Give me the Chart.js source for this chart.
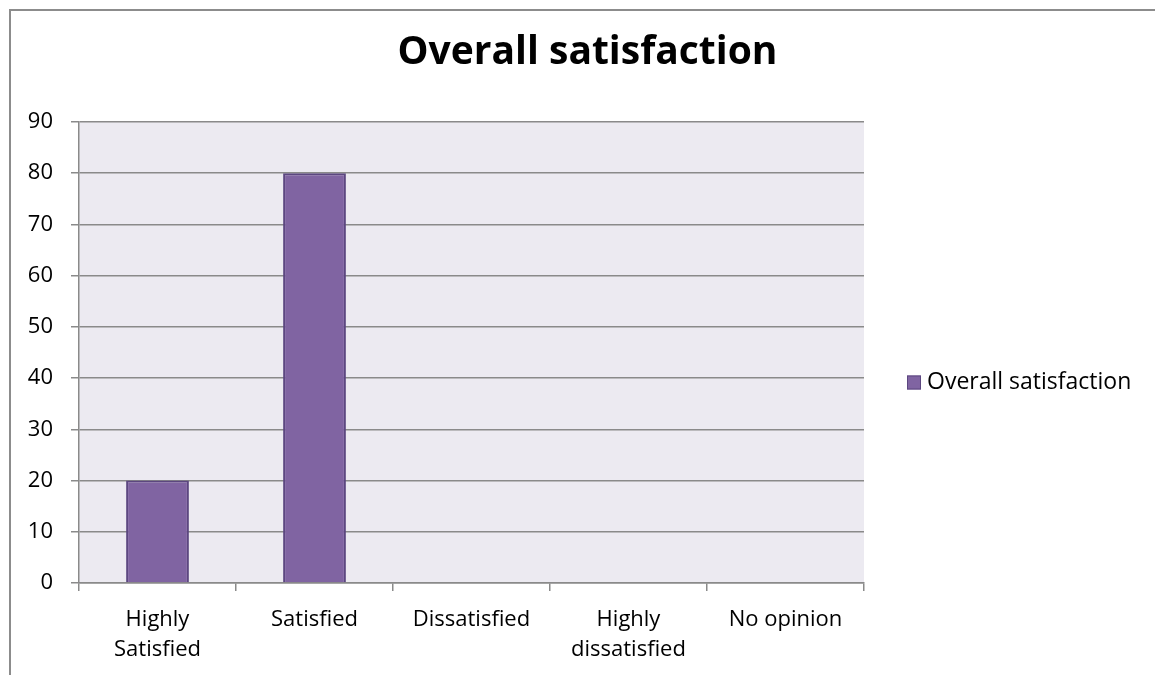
<!DOCTYPE html>
<html>
<head>
<meta charset="utf-8">
<script src="https://cdn.jsdelivr.net/npm/chart.js@4/dist/chart.umd.min.js"></script>
<style>
  html, body { margin: 0; padding: 0; background: #ffffff; }
  #wrap { width: 1155px; height: 675px; }
</style>
</head>
<body>
<div id="wrap"><canvas id="chart" width="1155" height="675"></canvas></div>
<script>
// Survey responses
const categories = [['Highly', 'Satisfied'], 'Satisfied', 'Dissatisfied', ['Highly', 'dissatisfied'], 'No opinion'];
const satisfactionValues = [20, 80, 0, 0, 0];
const yTicks = [0, 10, 20, 30, 40, 50, 60, 70, 80, 90];
const seriesName = 'Overall satisfaction';

const FONT = '"Open Sans", "Liberation Sans", sans-serif';
const BAR_FILL = '#8064A2';
const BAR_EDGE = '#5C4780';
const AXIS_GREY = '#8a8a8a';
const LEGEND_WIDTH = 291;

// Frame, plot background and side legend
const decorations = {
  id: 'decorations',
  beforeDraw(chart) {
    const { ctx, chartArea: a } = chart;
    ctx.save();
    ctx.fillStyle = '#ECEAF1';
    ctx.fillRect(a.left, a.top, a.right - a.left, a.bottom - a.top);
    ctx.strokeStyle = '#8c8c8c';
    ctx.lineWidth = 2;
    ctx.beginPath();
    ctx.moveTo(10, 675);
    ctx.lineTo(10, 10);
    ctx.lineTo(1155, 10);
    ctx.stroke();
    ctx.restore();
  },
  afterDraw(chart) {
    const { ctx } = chart;
    const ds = chart.data.datasets[0];
    const cy = (chart.chartArea.top + chart.chartArea.bottom) / 2 + 30;
    ctx.save();
    ctx.fillStyle = ds.backgroundColor;
    ctx.fillRect(907, cy - 7, 14, 14);
    ctx.strokeStyle = ds.borderColor;
    ctx.lineWidth = 1;
    ctx.strokeRect(907.5, cy - 6.5, 13, 13);
    ctx.fillStyle = '#000';
    ctx.font = '23px ' + FONT;
    ctx.textBaseline = 'middle';
    ctx.textAlign = 'left';
    ctx.fillText(ds.label, 927, cy);
    ctx.restore();
  }
};

new Chart(document.getElementById('chart'), {
  type: 'bar',
  data: {
    labels: categories,
    datasets: [{
      label: seriesName,
      data: satisfactionValues,
      backgroundColor: BAR_FILL,
      borderColor: BAR_EDGE,
      borderWidth: 2,
      categoryPercentage: 0.4,
      barPercentage: 1.0
    }]
  },
  options: {
    responsive: false,
    animation: false,
    layout: { padding: { left: 20, right: 0, top: 0, bottom: 0 } },
    plugins: {
      legend: { display: false },
      tooltip: { enabled: false },
      title: {
        display: true,
        text: seriesName,
        color: '#000',
        font: { family: FONT, size: 39, weight: 'bold', lineHeight: 1.2 },
        padding: { top: 29, bottom: 46.2 }
      }
    },
    scales: {
      x: {
        offset: true,
        grid: {
          offset: true,
          drawOnChartArea: false,
          drawTicks: true,
          tickLength: 8,
          color: AXIS_GREY,
          lineWidth: 1.5
        },
        border: { display: true, color: AXIS_GREY, width: 1.5 },
        ticks: {
          color: '#000',
          padding: 14,
          maxRotation: 0,
          autoSkip: false,
          font: { family: FONT, size: 22, lineHeight: 1.36 }
        },
        afterFit(scale) { scale.height = 92; }
      },
      y: {
        min: 0,
        max: 90,
        afterBuildTicks(scale) { scale.ticks = yTicks.map(v => ({ value: v })); },
        grid: {
          color: AXIS_GREY,
          lineWidth: 1.5,
          drawTicks: true,
          tickLength: 8
        },
        border: { display: true, color: AXIS_GREY, width: 1.5 },
        ticks: {
          color: '#000',
          padding: 18,
          font: { family: FONT, size: 22 }
        },
        afterFit(scale) { scale.width = 59; }
      },
      // empty strip on the right that holds the legend
      legendStrip: {
        type: 'linear',
        position: 'right',
        display: true,
        grid: { display: false, drawTicks: false },
        border: { display: false },
        ticks: { display: false },
        afterFit(scale) { scale.width = LEGEND_WIDTH; }
      }
    }
  },
  plugins: [decorations]
});
</script>
</body>
</html>
